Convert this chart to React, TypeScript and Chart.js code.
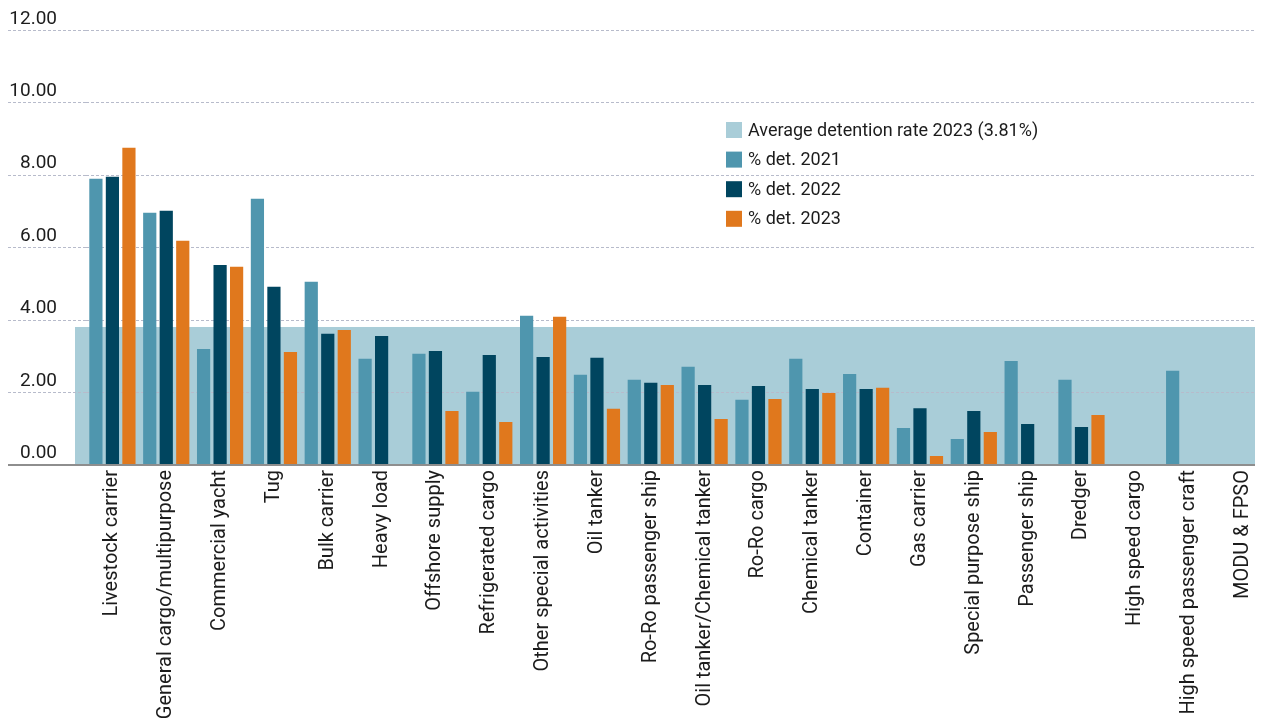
import React, { useEffect, useRef } from "react";
import { Chart, registerables } from "chart.js";

Chart.register(...registerables);

// Detention rate (%) by ship type
const categories = [
  "Livestock carrier",
  "General cargo/multipurpose",
  "Commercial yacht",
  "Tug",
  "Bulk carrier",
  "Heavy load",
  "Offshore supply",
  "Refrigerated cargo",
  "Other special activities",
  "Oil tanker",
  "Ro-Ro passenger ship",
  "Oil tanker/Chemical tanker",
  "Ro-Ro cargo",
  "Chemical tanker",
  "Container",
  "Gas carrier",
  "Special purpose ship",
  "Passenger ship",
  "Dredger",
  "High speed cargo",
  "High speed passenger craft",
  "MODU & FPSO",
];

const det2021 = [7.9, 6.96, 3.2, 7.35, 5.06, 2.93, 3.07, 2.02, 4.12, 2.49, 2.35, 2.71, 1.8, 2.93, 2.51, 1.02, 0.72, 2.87, 2.35, 0, 2.6, 0];
const det2022 = [7.96, 7.02, 5.52, 4.92, 3.62, 3.56, 3.15, 3.04, 2.98, 2.96, 2.27, 2.21, 2.18, 2.1, 2.1, 1.57, 1.49, 1.13, 1.05, 0, 0, 0];
const det2023 = [8.76, 6.19, 5.47, 3.12, 3.73, 0, 1.49, 1.19, 4.09, 1.55, 2.21, 1.27, 1.82, 1.99, 2.13, 0.25, 0.91, 0, 1.38, 0, 0, 0];

const averageRate2023 = 3.81;

const yTickValues = [0, 2, 4, 6, 8, 10, 12];

const seriesLabels = ["% det. 2021", "% det. 2022", "% det. 2023"];

const COLOR_2021 = "#4f96ae";
const COLOR_2022 = "#00455f";
const COLOR_2023 = "#e0781d";
const COLOR_BAND = "#a9cdd8";
const COLOR_GRID = "#b7bbcb";
const COLOR_AXIS = "#8e8e8e";
const COLOR_TEXT = "#1c1c1c";
const FONT = "Roboto, 'Noto Sans', sans-serif";

const CANVAS_W = 1264;
const CANVAS_H = 711;
const Y_AXIS_W = 77.5;
const Y_LABEL_RIGHT = 49;
const PLOT_BOTTOM = 457;
const PLOT_TOP = 22.3;

// Light band showing the average detention rate, painted under the grid and bars
const averageBand = {
  id: "averageBand",
  beforeDraw(chart: any) {
    const { ctx, chartArea, scales } = chart;
    const y = scales.y;
    const top = y.getPixelForValue(averageRate2023);
    const bottom = y.getPixelForValue(0);
    const left = chartArea.left - 10.5;
    ctx.save();
    ctx.fillStyle = COLOR_BAND;
    ctx.fillRect(left, top, chart.width - left, bottom - top);
    ctx.restore();
  },
};

// Legend placed inside the plot, band entry first, then the yearly series
const innerLegend = {
  id: "innerLegend",
  afterDraw(chart: any) {
    const { ctx } = chart;
    const items = [
      { text: `Average detention rate 2023 (${averageRate2023.toFixed(2)}%)`, color: COLOR_BAND },
      ...chart.data.datasets.map((d: any) => ({ text: d.label, color: d.backgroundColor })),
    ];
    const boxX = 718;
    const textX = 740;
    const firstTop = 114;
    const step = 29.6;
    const box = 16;
    ctx.save();
    ctx.font = `18px ${FONT}`;
    ctx.textBaseline = "middle";
    ctx.textAlign = "left";
    items.forEach((it: any, i: number) => {
      const top = firstTop + i * step;
      ctx.fillStyle = it.color;
      ctx.fillRect(boxX, top, box, box);
      ctx.fillStyle = COLOR_TEXT;
      ctx.fillText(it.text, textX, top + box / 2 + 1);
    });
    ctx.restore();
  },
};

const isZero = (ctx: any) => ctx && ctx.tick && ctx.tick.value === 0;

export default function App() {
  const canvasRef = useRef<HTMLCanvasElement | null>(null);

  useEffect(() => {
    if (!canvasRef.current) return;
    const chart = new Chart(canvasRef.current, {
      type: "bar",
      data: {
        labels: categories,
        datasets: [
          { label: seriesLabels[0], data: det2021, backgroundColor: COLOR_2021 },
          { label: seriesLabels[1], data: det2022, backgroundColor: COLOR_2022 },
          { label: seriesLabels[2], data: det2023, backgroundColor: COLOR_2023 },
        ],
      },
      options: {
        responsive: false,
        animation: false,
        layout: { padding: { top: PLOT_TOP, left: 0, right: 0, bottom: 0 } },
        datasets: {
          bar: { categoryPercentage: 0.92, barPercentage: 0.8, borderWidth: 0 },
        },
        plugins: {
          legend: { display: false },
          tooltip: { enabled: false },
        },
        scales: {
          x: {
            grid: { display: false, drawTicks: false },
            border: { display: false },
            ticks: {
              autoSkip: false,
              maxRotation: 90,
              minRotation: 90,
              padding: 5,
              color: COLOR_TEXT,
              font: { family: FONT, size: 20 },
            },
            afterFit: (scale: any) => {
              scale.height = CANVAS_H - PLOT_BOTTOM;
            },
          },
          y: {
            min: 0,
            max: 12,
            afterBuildTicks: (scale: any) => {
              scale.ticks = yTickValues.map((v) => ({ value: v }));
            },
            afterFit: (scale: any) => {
              scale.width = Y_AXIS_W;
            },
            ticks: {
              callback: (v: any) => Number(v).toFixed(2),
              color: COLOR_TEXT,
              font: { family: FONT, size: 19 },
              crossAlign: "near",
              // labels sit right-aligned just above each grid line, over the extended tick marks
              padding: -Y_LABEL_RIGHT,
              labelOffset: -11.5,
            },
            grid: {
              drawTicks: true,
              tickLength: Y_AXIS_W,
              color: (ctx: any) => (isZero(ctx) ? COLOR_AXIS : COLOR_GRID),
              tickColor: (ctx: any) => (isZero(ctx) ? COLOR_AXIS : COLOR_GRID),
              lineWidth: (ctx: any) => (isZero(ctx) ? 2 : 1),
              tickWidth: (ctx: any) => (isZero(ctx) ? 2 : 1),
              tickBorderDash: (ctx: any) => (isZero(ctx) ? [] : [3, 2]),
            },
            border: {
              display: false,
              dash: (ctx: any) => (isZero(ctx) ? [] : [3, 2]),
            },
          },
        },
      },
      plugins: [averageBand, innerLegend],
    } as any);
    return () => chart.destroy();
  }, []);

  return (
    <div style={{ width: 1255, overflow: "hidden" }}>
      <canvas
        ref={canvasRef}
        width={CANVAS_W}
        height={CANVAS_H}
        style={{ display: "block", width: CANVAS_W, height: CANVAS_H }}
      />
    </div>
  );
}
